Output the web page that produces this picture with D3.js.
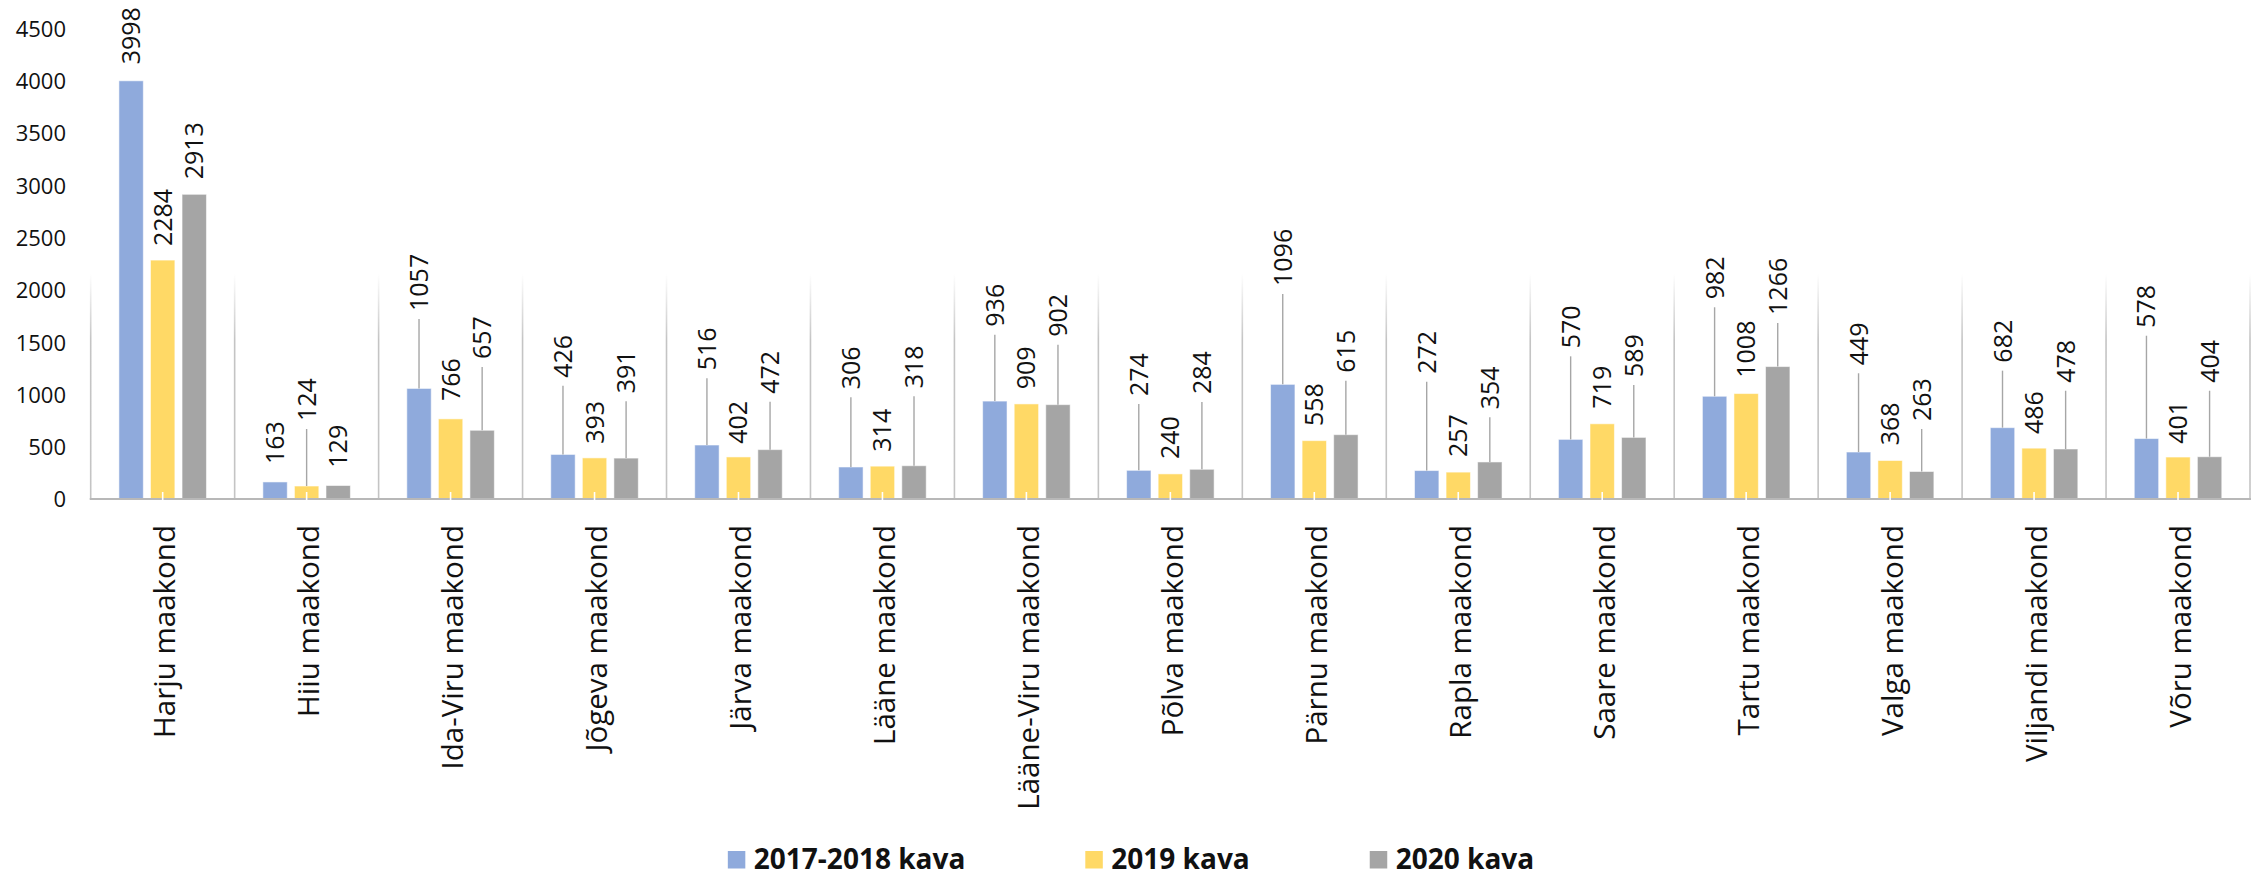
<!DOCTYPE html>
<html>
<head>
<meta charset="utf-8">
<script src="https://cdn.jsdelivr.net/npm/d3@7"></script>
<style>
    body { margin: 0; background: #fff; }
    text { font-family: "Open Sans", "Noto Sans", sans-serif; fill: #111; }
</style>
</head>
<body>
<div class="chart"></div>
<script>
// Data
const categories = ['Harju maakond', 'Hiiu maakond', 'Ida-Viru maakond', 'Jõgeva maakond', 'Järva maakond',
    'Lääne maakond', 'Lääne-Viru maakond', 'Põlva maakond', 'Pärnu maakond', 'Rapla maakond',
    'Saare maakond', 'Tartu maakond', 'Valga maakond', 'Viljandi maakond', 'Võru maakond']
const seriesNames = ['2017-2018 kava', '2019 kava', '2020 kava']
const values2017 = [3998, 163, 1057, 426, 516, 306, 936, 274, 1096, 272, 570, 982, 449, 682, 578]
const values2019 = [2284, 124, 766, 393, 402, 314, 909, 240, 558, 257, 719, 1008, 368, 486, 401]
const values2020 = [2913, 129, 657, 391, 472, 318, 902, 284, 615, 354, 589, 1266, 263, 478, 404]
// where the (moved) data labels sit, in chart units
const labelAt2017 = [4165, 344, 1807, 1169, 1240, 1058, 1657, 994, 2046, 1207, 1450, 1919, 1288, 1313, 1647]
const labelAt2019 = [2428, 755, 946, 538, 538, 462, 1058, 392, 707, 411, 873, 1169, 523, 631, 538]
const labelAt2020 = [3066, 309, 1348, 1020, 1016, 1068, 1561, 1013, 1217, 867, 1176, 1769, 755, 1121, 1121]
const yTicks = [0, 500, 1000, 1500, 2000, 2500, 3000, 3500, 4000, 4500]

function draw() {
    const colors = ['#8faadc', '#ffd966', '#a5a5a5']

    let dimensions = {
        width: 2262,
        height: 878,
        left: 90.7,
        right: 2250,
        top: 28.3,
        bottom: 499
    }

    const svg = d3.select('.chart')
        .append('svg')
        .attr('width', dimensions.width)
        .attr('height', dimensions.height)

    // Scales
    const xScale = d3.scaleBand()
        .domain(categories)
        .range([dimensions.left, dimensions.right])

    const step = xScale.bandwidth()
    const groupPad = step * 0.196

    const x1Scale = d3.scaleBand()
        .domain(seriesNames)
        .range([groupPad, step - groupPad])
        .paddingInner(0.227)

    const yScale = d3.scaleLinear()
        .domain([0, 4500])
        .range([dimensions.bottom, dimensions.top])

    // fading category separators
    const grad = svg.append('defs').append('linearGradient')
        .attr('id', 'sepFade')
        .attr('gradientUnits', 'userSpaceOnUse')
        .attr('x1', 0).attr('x2', 0)
        .attr('y1', 274).attr('y2', 340)
    grad.append('stop').attr('offset', 0).attr('stop-color', '#ffffff')
    grad.append('stop').attr('offset', 1).attr('stop-color', '#c4c4c4')

    const bounds = categories.map(c => xScale(c)).concat([dimensions.right])
    svg.append('g')
        .selectAll('rect')
        .data(bounds)
        .join('rect')
        .attr('x', d => d - 0.8)
        .attr('width', 1.6)
        .attr('y', 274)
        .attr('height', dimensions.bottom - 274)
        .attr('fill', 'url(#sepFade)')

    // Y axis (labels only)
    const yAxis = d3.axisLeft(yScale)
        .tickValues(yTicks)
        .tickFormat(d3.format('d'))
        .tickSize(0)
        .tickPadding(0)

    const yAxisGroup = svg.append('g')
        .attr('transform', 'translate(66, 0)')
        .call(yAxis)
    yAxisGroup.select('.domain').remove()
    yAxisGroup.selectAll('text')
        .attr('font-family', null)
        .style('font-size', '22px')
        .attr('dy', '0.36em')
        .attr('x', 0)

    const seriesData = [
        { name: seriesNames[0], values: values2017, labels: labelAt2017 },
        { name: seriesNames[1], values: values2019, labels: labelAt2019 },
        { name: seriesNames[2], values: values2020, labels: labelAt2020 }
    ]

    const flat = []
    seriesData.forEach((s, si) => {
        s.values.forEach((v, i) => {
            flat.push({ cat: categories[i], series: s.name, si: si, value: v, labelAt: s.labels[i] })
        })
    })
    const cx = d => xScale(d.cat) + x1Scale(d.series) + x1Scale.bandwidth() / 2

    // Bars
    svg.append('g')
        .selectAll('rect')
        .data(flat)
        .join('rect')
        .attr('x', d => xScale(d.cat) + x1Scale(d.series))
        .attr('width', x1Scale.bandwidth())
        .attr('y', d => yScale(d.value))
        .attr('height', d => yScale(0) - yScale(d.value))
        .attr('fill', d => colors[d.si])
        .attr('stroke', '#ffffff')
        .attr('stroke-opacity', 0.55)
        .attr('stroke-width', 1)

    // Baseline
    svg.append('line')
        .attr('x1', dimensions.left - 1)
        .attr('x2', dimensions.right + 1)
        .attr('y1', yScale(0))
        .attr('y2', yScale(0))
        .attr('stroke', '#b8b8b8')
        .attr('stroke-width', 2.2)

    // small white marks at category centres
    svg.append('g')
        .selectAll('line')
        .data(categories)
        .join('line')
        .attr('x1', d => xScale(d) + step / 2)
        .attr('x2', d => xScale(d) + step / 2)
        .attr('y1', yScale(0) - 7)
        .attr('y2', yScale(0) + 1)
        .attr('stroke', '#ffffff')
        .attr('stroke-width', 1.6)

    // Leader lines for labels moved away from bars
    svg.append('g')
        .selectAll('line')
        .data(flat.filter(d => yScale(d.value) - yScale(d.labelAt) > 30))
        .join('line')
        .attr('x1', cx)
        .attr('x2', cx)
        .attr('y1', d => yScale(d.labelAt) + 9)
        .attr('y2', d => yScale(d.value))
        .attr('stroke', '#a6a6a6')
        .attr('stroke-width', 1.4)

    // Data labels
    svg.append('g')
        .selectAll('text')
        .data(flat)
        .join('text')
        .attr('transform', d => `translate(${cx(d)}, ${yScale(d.labelAt) + 1}) rotate(-90)`)
        .attr('dy', '0.36em')
        .style('font-size', '25px')
        .text(d => d.value)

    // Category labels
    svg.append('g')
        .selectAll('text')
        .data(categories)
        .join('text')
        .attr('transform', d => `translate(${xScale(d) + step / 2 + 2}, 525) rotate(-90)`)
        .attr('text-anchor', 'end')
        .attr('dy', '0.36em')
        .style('font-size', '29.5px')
        .text(d => d)

    // Legend
    const legend = svg.append('g')
    const items = legend.selectAll('g')
        .data(seriesNames)
        .join('g')
    items.append('rect')
        .attr('width', 17.5)
        .attr('height', 17.5)
        .attr('y', 851)
        .attr('fill', (d, i) => colors[i])
    items.append('text')
        .attr('x', 26)
        .attr('y', 869)
        .style('font-size', '28px')
        .style('font-weight', 700)
        .text(d => d)

    const gap = 120
    const widths = []
    items.each(function () {
        widths.push(26 + d3.select(this).select('text').node().getComputedTextLength())
    })
    const total = d3.sum(widths) + gap * (widths.length - 1)
    let start = dimensions.width / 2 - total / 2
    items.attr('transform', (d, i) => {
        const x = start
        start += widths[i] + gap
        return `translate(${x}, 0)`
    })
}

draw()
</script>
</body>
</html>
